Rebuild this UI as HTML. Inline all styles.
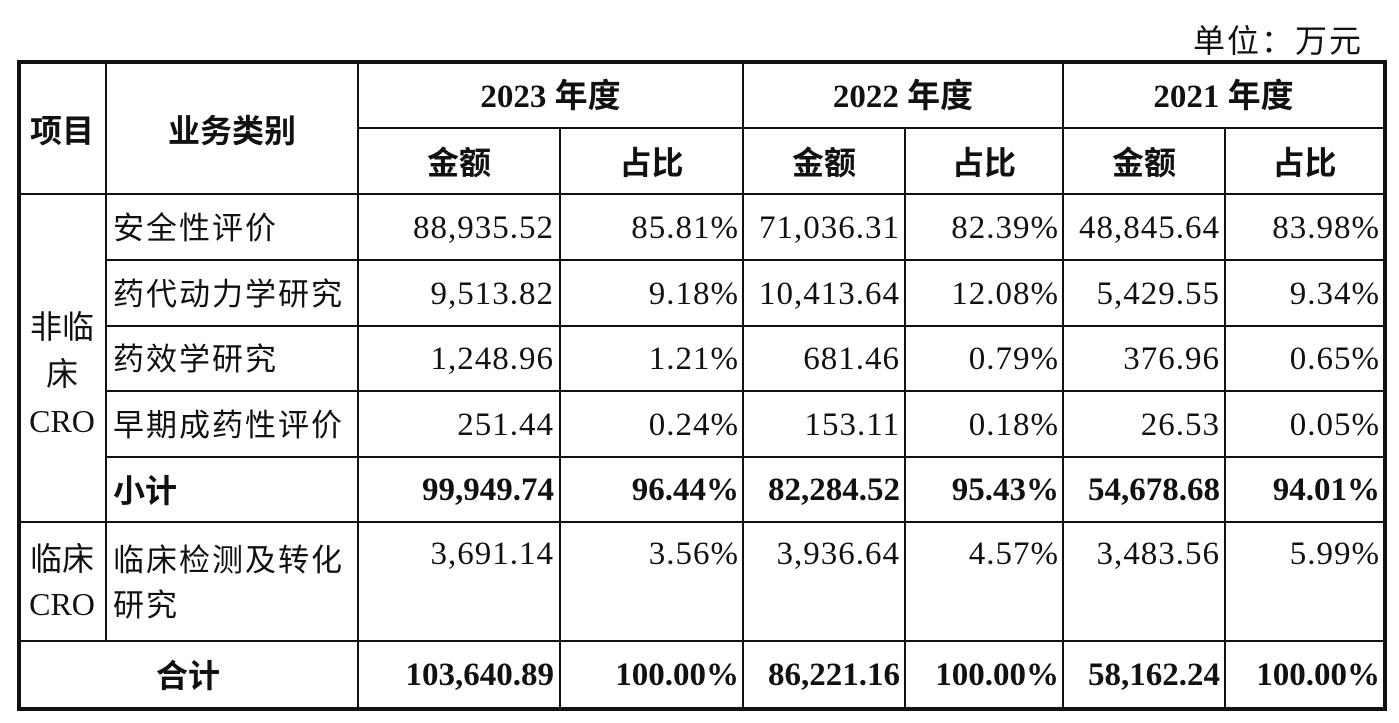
<!DOCTYPE html>
<html><head><meta charset="utf-8"><style>
body{margin:0;width:1399px;height:723px;background:#fff;position:relative;overflow:hidden;font-family:"Liberation Serif","Noto Sans CJK SC",serif;color:#111}
.h,.v{position:absolute;background:#111}
.t{position:absolute;font-size:31px;line-height:34px;white-space:nowrap}
.n{font-size:33px;letter-spacing:1px;margin-right:-1px}
.n.b{letter-spacing:0;margin-right:0}
.r{text-align:right}
.c{text-align:center}
.b{font-weight:bold}
.cn{font-family:"Liberation Serif","Noto Sans CJK SC",sans-serif;letter-spacing:2px}
.hb{font-family:"Liberation Serif","Noto Sans CJK SC",sans-serif;font-weight:bold;font-size:32px}
</style></head><body>
<div class="t cn" style="left:1193px;top:24px;font-size:32px">单位：万元</div>
<div class="h" style="left:17px;top:60px;width:1370px;height:4px"></div>
<div class="h" style="left:17px;top:707px;width:1370px;height:4px"></div>
<div class="v" style="left:17px;top:60px;width:4px;height:651px"></div>
<div class="v" style="left:1383px;top:60px;width:4px;height:651px"></div>
<div class="h" style="left:358px;top:127px;width:1026px;height:2px"></div>
<div class="h" style="left:18px;top:193px;width:1366px;height:2px"></div>
<div class="h" style="left:106px;top:259px;width:1278px;height:2px"></div>
<div class="h" style="left:106px;top:325px;width:1278px;height:2px"></div>
<div class="h" style="left:106px;top:390px;width:1278px;height:2px"></div>
<div class="h" style="left:106px;top:456px;width:1278px;height:2px"></div>
<div class="h" style="left:18px;top:521px;width:1366px;height:2px"></div>
<div class="h" style="left:18px;top:640px;width:1366px;height:2px"></div>
<div class="v" style="left:105px;top:62px;width:2px;height:579px"></div>
<div class="v" style="left:357px;top:62px;width:2px;height:647px"></div>
<div class="v" style="left:559px;top:128px;width:2px;height:581px"></div>
<div class="v" style="left:742px;top:62px;width:2px;height:647px"></div>
<div class="v" style="left:904px;top:128px;width:2px;height:581px"></div>
<div class="v" style="left:1062px;top:62px;width:2px;height:647px"></div>
<div class="v" style="left:1224px;top:128px;width:2px;height:581px"></div>
<div class="t hb c" style="left:18px;top:114px;width:88px">项目</div>
<div class="t hb c" style="left:106px;top:114px;width:252px">业务类别</div>
<div class="t hb c" style="left:358px;top:80px;width:385px;font-size:33px">2023 年度</div>
<div class="t hb c" style="left:743px;top:80px;width:320px;font-size:33px">2022 年度</div>
<div class="t hb c" style="left:1063px;top:80px;width:321px;font-size:33px">2021 年度</div>
<div class="t hb c" style="left:358px;top:146px;width:202px">金额</div>
<div class="t hb c" style="left:560px;top:146px;width:183px">占比</div>
<div class="t hb c" style="left:743px;top:146px;width:162px">金额</div>
<div class="t hb c" style="left:905px;top:146px;width:158px">占比</div>
<div class="t hb c" style="left:1063px;top:146px;width:162px">金额</div>
<div class="t hb c" style="left:1225px;top:146px;width:159px">占比</div>
<div class="t cn c" style="left:18px;top:304px;width:88px;line-height:47px;white-space:normal;letter-spacing:0;font-size:32px">非临<br>床<br>CRO</div>
<div class="t cn c" style="left:18px;top:537px;width:88px;line-height:45px;white-space:normal;letter-spacing:0;font-size:32px">临床<br>CRO</div>
<div class="t cn" style="left:113px;top:212px">安全性评价</div>
<div class="t cn" style="left:113px;top:278px">药代动力学研究</div>
<div class="t cn" style="left:113px;top:343px">药效学研究</div>
<div class="t cn" style="left:113px;top:409px">早期成药性评价</div>
<div class="t hb" style="left:113px;top:474px">小计</div>
<div class="t cn" style="left:113px;top:538px;line-height:45px">临床检测及转化<br>研究</div>
<div class="t hb c" style="left:18px;top:659px;width:340px">合计</div>
<div style="position:absolute;left:0;top:0">
<div class="t n r" style="left:358px;top:211px;width:196px">88,935.52</div>
<div class="t n r" style="left:560px;top:211px;width:179px">85.81%</div>
<div class="t n r" style="left:743px;top:211px;width:157px">71,036.31</div>
<div class="t n r" style="left:905px;top:211px;width:154px">82.39%</div>
<div class="t n r" style="left:1063px;top:211px;width:157px">48,845.64</div>
<div class="t n r" style="left:1225px;top:211px;width:155px">83.98%</div>

<div class="t n r" style="left:358px;top:277px;width:196px">9,513.82</div>
<div class="t n r" style="left:560px;top:277px;width:179px">9.18%</div>
<div class="t n r" style="left:743px;top:277px;width:157px">10,413.64</div>
<div class="t n r" style="left:905px;top:277px;width:154px">12.08%</div>
<div class="t n r" style="left:1063px;top:277px;width:157px">5,429.55</div>
<div class="t n r" style="left:1225px;top:277px;width:155px">9.34%</div>

<div class="t n r" style="left:358px;top:342px;width:196px">1,248.96</div>
<div class="t n r" style="left:560px;top:342px;width:179px">1.21%</div>
<div class="t n r" style="left:743px;top:342px;width:157px">681.46</div>
<div class="t n r" style="left:905px;top:342px;width:154px">0.79%</div>
<div class="t n r" style="left:1063px;top:342px;width:157px">376.96</div>
<div class="t n r" style="left:1225px;top:342px;width:155px">0.65%</div>

<div class="t n r" style="left:358px;top:408px;width:196px">251.44</div>
<div class="t n r" style="left:560px;top:408px;width:179px">0.24%</div>
<div class="t n r" style="left:743px;top:408px;width:157px">153.11</div>
<div class="t n r" style="left:905px;top:408px;width:154px">0.18%</div>
<div class="t n r" style="left:1063px;top:408px;width:157px">26.53</div>
<div class="t n r" style="left:1225px;top:408px;width:155px">0.05%</div>

<div class="t n r b" style="left:358px;top:473px;width:196px">99,949.74</div>
<div class="t n r b" style="left:560px;top:473px;width:179px">96.44%</div>
<div class="t n r b" style="left:743px;top:473px;width:157px">82,284.52</div>
<div class="t n r b" style="left:905px;top:473px;width:154px">95.43%</div>
<div class="t n r b" style="left:1063px;top:473px;width:157px">54,678.68</div>
<div class="t n r b" style="left:1225px;top:473px;width:155px">94.01%</div>

<div class="t n r" style="left:358px;top:537px;width:196px">3,691.14</div>
<div class="t n r" style="left:560px;top:537px;width:179px">3.56%</div>
<div class="t n r" style="left:743px;top:537px;width:157px">3,936.64</div>
<div class="t n r" style="left:905px;top:537px;width:154px">4.57%</div>
<div class="t n r" style="left:1063px;top:537px;width:157px">3,483.56</div>
<div class="t n r" style="left:1225px;top:537px;width:155px">5.99%</div>

<div class="t n r b" style="left:358px;top:658px;width:196px">103,640.89</div>
<div class="t n r b" style="left:560px;top:658px;width:179px">100.00%</div>
<div class="t n r b" style="left:743px;top:658px;width:157px">86,221.16</div>
<div class="t n r b" style="left:905px;top:658px;width:154px">100.00%</div>
<div class="t n r b" style="left:1063px;top:658px;width:157px">58,162.24</div>
<div class="t n r b" style="left:1225px;top:658px;width:155px">100.00%</div>
</div>
</body></html>
